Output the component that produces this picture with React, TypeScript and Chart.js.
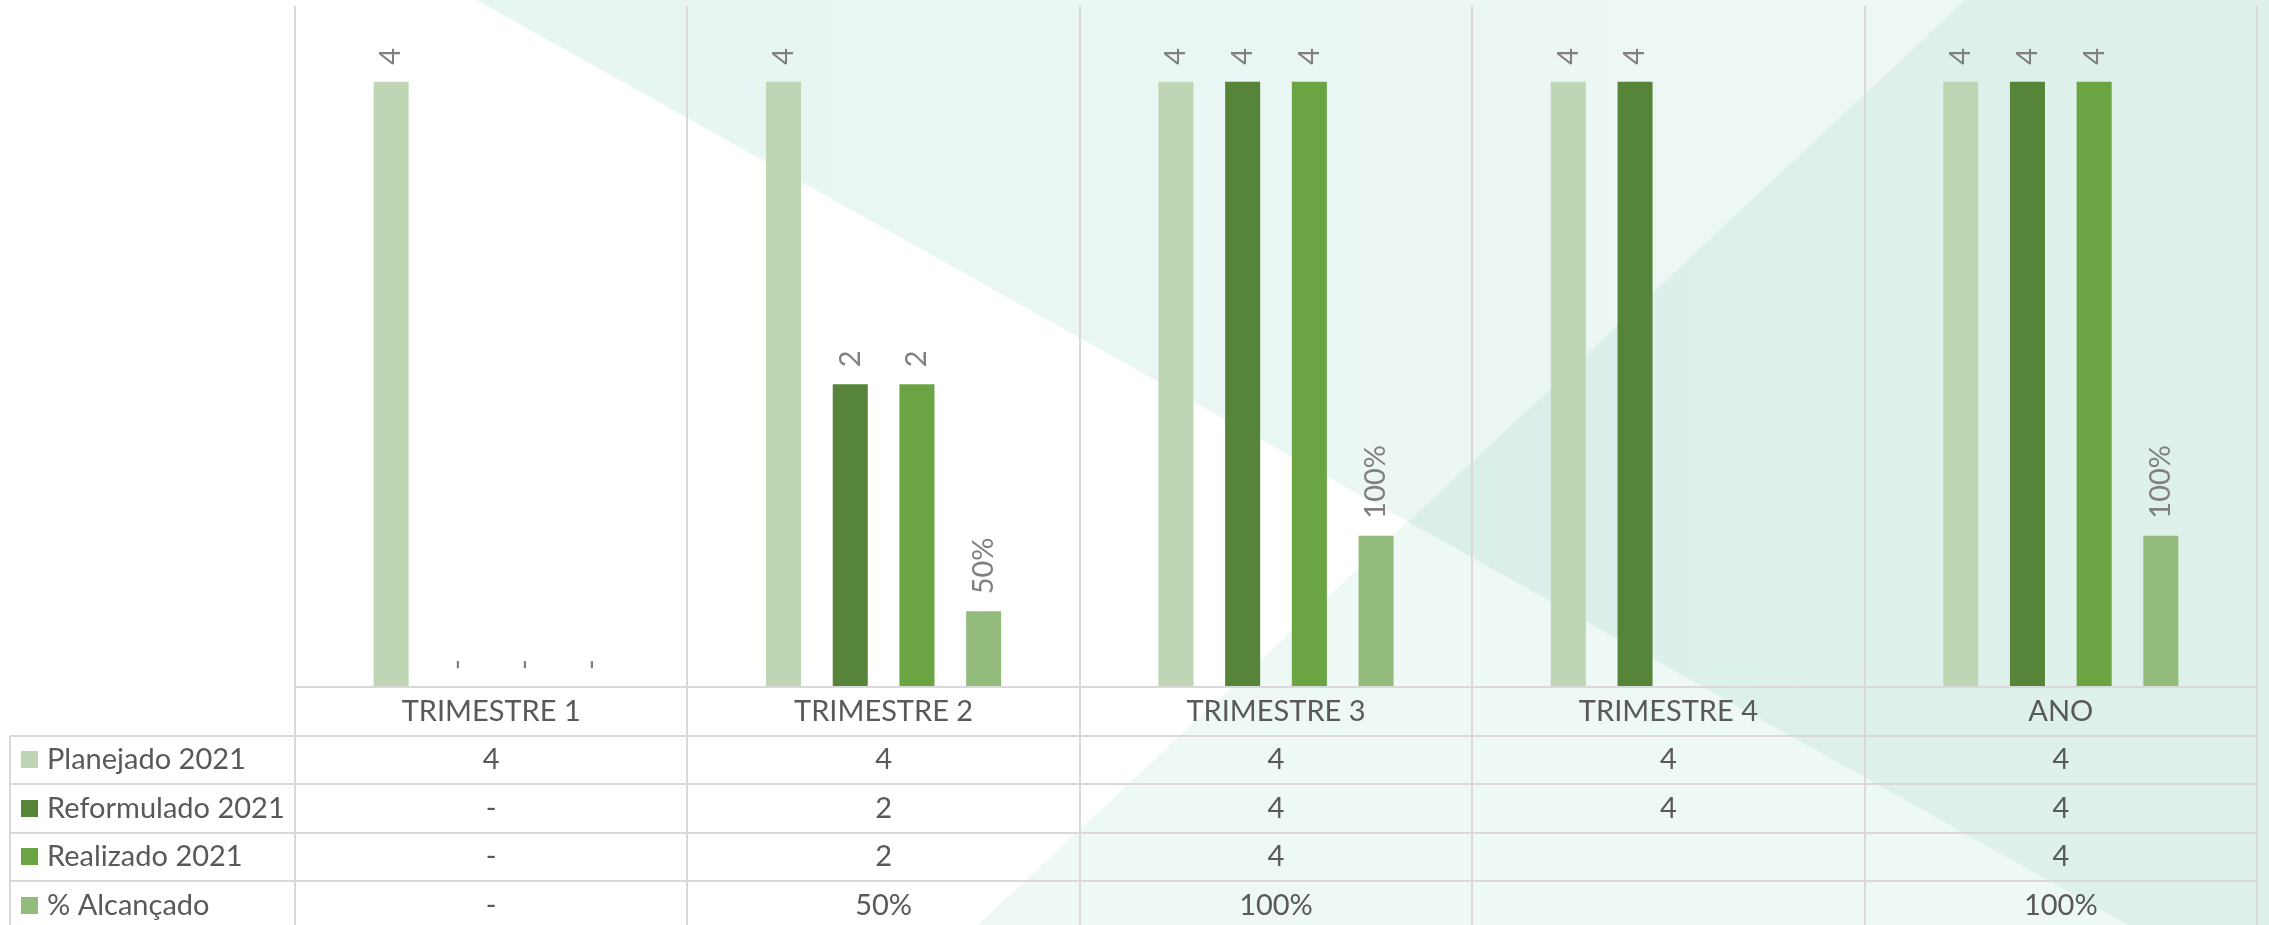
import React, { useEffect, useRef } from 'react';
import { Chart, registerables } from 'chart.js';

Chart.register(...registerables);

const categories = ['TRIMESTRE 1', 'TRIMESTRE 2', 'TRIMESTRE 3', 'TRIMESTRE 4', 'ANO'];
const planejado: (number | null)[] = [4, 4, 4, 4, 4];
const reformulado: (number | null)[] = [0, 2, 4, 4, 4];
const realizado: (number | null)[] = [0, 2, 4, null, 4];
const alcancado: (number | null)[] = [0, 0.5, 1, null, 1];

const seriesNames = ['Planejado 2021', 'Reformulado 2021', 'Realizado 2021', '% Alcançado'];
const seriesColors = ['#bfd6b4', '#56853a', '#6aa443', '#93bc7c'];
const seriesIsPct = [false, false, false, true];
const seriesValues = [planejado, reformulado, realizado, alcancado];

const FONT = 'Lato, "Open Sans", sans-serif';
const LINE = '#d9d9d9';

const fmt = (v: number | null, pct: boolean) => {
  if (v === null || v === undefined) return '';
  if (v === 0) return '-';
  return pct ? `${Math.round(v * 100)}%` : String(v);
};

const backgroundPlugin = {
  id: 'bgShapes',
  beforeDraw(chart: any) {
    const { ctx, width: w, height: h } = chart;
    ctx.save();
    ctx.fillStyle = '#ffffff';
    ctx.fillRect(0, 0, w, h);
    const gA = ctx.createLinearGradient(w * 0.21, 0, w, 0);
    gA.addColorStop(0, 'rgba(15,165,135,0.10)');
    gA.addColorStop(1, 'rgba(30,150,100,0.07)');
    ctx.fillStyle = gA;
    ctx.beginPath();
    ctx.moveTo(w * 0.21, 0);
    ctx.lineTo(w, 0);
    ctx.lineTo(w, h);
    ctx.lineTo(w * 0.938, h);
    ctx.closePath();
    ctx.fill();
    ctx.fillStyle = 'rgba(42,167,130,0.08)';
    ctx.beginPath();
    ctx.moveTo(w * 0.431, h);
    ctx.lineTo(w * 0.866, 0);
    ctx.lineTo(w, 0);
    ctx.lineTo(w, h);
    ctx.closePath();
    ctx.fill();
    ctx.restore();
  },
};

const gridPlugin = {
  id: 'catGrid',
  beforeDatasetsDraw(chart: any) {
    const { ctx, chartArea, height } = chart;
    const xs = chart.scales.x;
    const n = categories.length;
    const bounds: number[] = [chartArea.left];
    for (let i = 0; i < n - 1; i++) bounds.push((xs.getPixelForValue(i) + xs.getPixelForValue(i + 1)) / 2);
    bounds.push(chartArea.right);
    ctx.save();
    ctx.strokeStyle = LINE;
    ctx.lineWidth = 2;
    bounds.forEach((b) => {
      ctx.beginPath();
      ctx.moveTo(Math.round(b), chartArea.top);
      ctx.lineTo(Math.round(b), height);
      ctx.stroke();
    });
    ctx.restore();
  },
};

const labelPlugin = {
  id: 'barLabels',
  afterDatasetsDraw(chart: any) {
    const { ctx } = chart;
    ctx.save();
    ctx.fillStyle = '#808080';
    ctx.font = `29px ${FONT}`;
    ctx.textAlign = 'left';
    ctx.textBaseline = 'middle';
    chart.data.datasets.forEach((ds: any, i: number) => {
      const meta = chart.getDatasetMeta(i);
      meta.data.forEach((bar: any, j: number) => {
        const text = fmt(ds.data[j], seriesIsPct[i]);
        if (!text || !isFinite(bar.y)) return;
        ctx.save();
        ctx.translate(bar.x, bar.y - 17);
        ctx.rotate(-Math.PI / 2);
        ctx.fillText(text, 0, 0);
        ctx.restore();
      });
    });
    ctx.restore();
  },
};

const tablePlugin = {
  id: 'dataTable',
  afterDraw(chart: any) {
    const { ctx, chartArea } = chart;
    const xs = chart.scales.x;
    const rowH = 48.5;
    const top = chartArea.bottom;
    const tableLeft = 10;
    const right = chartArea.right;
    ctx.save();
    ctx.strokeStyle = LINE;
    ctx.lineWidth = 2;
    ctx.beginPath();
    ctx.moveTo(chartArea.left, Math.round(top));
    ctx.lineTo(right, Math.round(top));
    ctx.stroke();
    for (let r = 1; r <= seriesNames.length; r++) {
      const y = Math.round(top + r * rowH);
      ctx.beginPath();
      ctx.moveTo(tableLeft, y);
      ctx.lineTo(right, y);
      ctx.stroke();
    }
    ctx.beginPath();
    ctx.moveTo(tableLeft, Math.round(top + rowH));
    ctx.lineTo(tableLeft, chart.height);
    ctx.stroke();

    ctx.fillStyle = '#595959';
    ctx.font = `29px ${FONT}`;
    ctx.textBaseline = 'middle';
    ctx.textAlign = 'center';
    categories.forEach((c, i) => {
      ctx.fillText(c, xs.getPixelForValue(i), top + rowH / 2);
    });
    seriesNames.forEach((name, r) => {
      const cy = top + (r + 1.5) * rowH;
      ctx.fillStyle = seriesColors[r];
      ctx.fillRect(21, Math.round(cy - 8.5), 17, 17);
      ctx.fillStyle = '#595959';
      ctx.textAlign = 'left';
      ctx.fillText(name, 47, cy);
      ctx.textAlign = 'center';
      seriesValues[r].forEach((v, i) => {
        const t = fmt(v, seriesIsPct[r]);
        if (t) ctx.fillText(t, xs.getPixelForValue(i), cy);
      });
    });
    ctx.restore();
  },
};

export default function App() {
  const ref = useRef<HTMLCanvasElement | null>(null);
  useEffect(() => {
    if (!ref.current) return;
    const chart = new Chart(ref.current, {
      type: 'bar',
      data: {
        labels: categories,
        datasets: seriesNames.map((name, i) => ({
          label: name,
          data: seriesValues[i] as any,
          backgroundColor: seriesColors[i],
          borderWidth: 0,
          categoryPercentage: 0.68,
          barPercentage: 0.525,
        })),
      },
      options: {
        animation: false,
        responsive: false,
        maintainAspectRatio: false,
        devicePixelRatio: 1,
        layout: { padding: { left: 295, right: 12, top: 6, bottom: 238 } },
        plugins: { legend: { display: false }, tooltip: { enabled: false } },
        scales: {
          x: { display: false },
          y: { display: false, min: 0, max: 4.5 },
        },
      },
      plugins: [backgroundPlugin, gridPlugin, labelPlugin, tablePlugin],
    });
    return () => chart.destroy();
  }, []);
  return (
    <div style={{ position: 'absolute', left: 0, top: 0, width: 2269, height: 925 }}>
      <canvas ref={ref} width={2269} height={925} style={{ width: 2269, height: 925, display: 'block' }} />
    </div>
  );
}
